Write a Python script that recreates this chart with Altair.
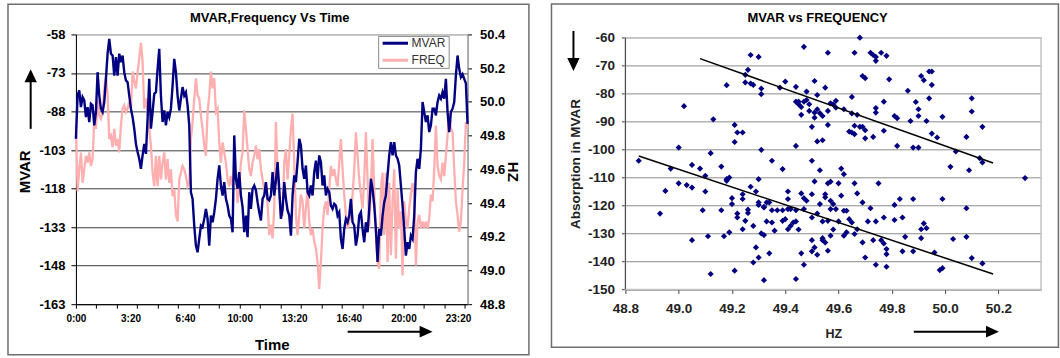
import altair as alt
import numpy as np
import pandas as pd

FONT = "Liberation Sans"
NAVY = "#000080"
PINK = "#FFAFAF"

# ---------------- left chart data (5-min samples over the day) ----------------
mvar_values = [
    -98.6, -81.8, -79.8, -86.3, -82.4, -83.7, -90.2, -86.3, -92.1, -85.0,
    -85.6, -93.4, -88.2, -72.7, -81.8, -86.9, -88.2, -84.3, -75.3, -65.5,
    -59.7, -65.5, -66.2, -74.0, -66.8, -74.0, -65.5, -68.8, -66.2, -72.7,
    -75.9, -76.6, -81.8, -86.9, -90.2, -94.7, -100.6, -103.8, -106.4, -110.3,
    -105.1, -100.6, -104.5, -90.8, -75.3, -94.7, -88.2, -81.1, -80.5, -71.4,
    -63.6, -81.8, -92.1, -87.6, -93.4, -88.2, -90.2, -86.9, -77.9, -67.5,
    -72.7, -81.8, -87.6, -83.0, -78.5, -81.8, -80.5, -85.6, -93.4, -119.4,
    -122.0, -132.4, -140.2, -142.8, -137.6, -132.4, -133.0, -129.8, -125.9, -129.8,
    -140.2, -128.5, -131.1, -127.2, -122.0, -114.2, -109.0, -116.8, -120.7, -115.5,
    -122.0, -124.6, -128.5, -129.8, -135.0, -97.3, -114.2, -118.1, -111.6, -120.7,
    -125.2, -135.0, -128.5, -136.9, -119.4, -125.9, -118.1, -116.8, -118.7, -123.3,
    -127.2, -130.4, -122.0, -120.7, -115.5, -122.0, -122.6, -120.7,
    -111.6, -120.7, -114.9, -107.7, -118.1, -129.8, -125.9, -115.5, -122.0, -126.5,
    -128.5, -136.3, -120.7, -112.9, -115.5, -107.7, -98.6, -101.2, -110.3, -114.2,
    -109.0, -119.4, -120.7, -116.8, -120.7, -111.6, -107.1, -114.2, -105.1, -107.7,
    -116.8, -112.9, -120.7, -118.1, -119.4, -124.6, -125.9, -123.9, -124.6, -128.5,
    -127.2, -137.6, -141.5, -133.7, -129.8, -131.1, -128.5, -122.0, -131.1, -132.4,
    -140.2, -136.3, -128.5, -127.2, -133.7, -138.9, -131.1, -135.0, -125.9, -114.2,
    -118.1, -124.6, -133.7, -146.6, -133.7, -136.3, -128.5, -123.3, -120.7, -112.9,
    -105.1, -99.9, -105.1, -99.9, -105.1, -106.4, -109.0, -116.8, -124.6, -133.7,
    -144.1, -138.9, -141.5, -136.3, -137.6, -128.5, -111.6, -106.4, -110.3, -102.5,
    -84.3, -88.2, -92.1, -89.5, -96.0, -93.4, -86.9, -86.9, -89.5, -84.3,
    -81.8, -83.0, -80.5, -83.0, -75.3, -88.2, -96.0, -88.2, -86.9, -84.3,
    -74.0, -66.2, -71.4, -74.6, -73.5, -75.3, -77.0, -92.8,
]
freq_values = [
    49.86, 49.47, 49.60, 49.70, 49.52, 49.60, 49.68, 49.64, 49.70, 49.62,
    49.66, 49.90, 49.84, 50.01, 49.92, 49.90, 49.94, 50.08, 50.15, 50.04,
    49.78, 49.80, 49.73, 49.84, 49.74, 49.78, 49.70, 49.86, 49.96, 49.98,
    49.94, 49.96, 50.00, 49.96, 50.18, 50.12, 50.08, 50.18, 50.26, 50.35,
    50.24, 49.96, 50.02, 49.94, 49.84, 49.74, 49.58, 49.50, 49.68, 49.50,
    49.68, 49.54, 49.64, 49.70, 49.54, 49.66, 49.52, 49.60, 49.44, 49.48,
    49.33, 49.29, 49.54, 49.58, 49.62, 49.60, 49.56, 49.50, 49.52, 49.78,
    49.88, 50.02, 50.14, 50.04, 50.02, 49.92, 49.84, 49.74, 49.68, 49.94,
    50.04, 50.18, 50.08, 50.14, 49.94, 49.96, 49.76, 49.64, 49.76, 49.70,
    49.64, 49.54, 49.50, 49.56, 49.50, 49.62, 49.58, 49.40, 49.50, 49.64,
    49.70, 49.95, 49.84, 49.72, 49.60, 49.56, 49.64, 49.68, 49.74, 49.66,
    49.72, 49.60, 49.54, 49.48, 49.52, 49.39, 49.21, 49.27,
    49.19, 49.37, 49.88, 49.58, 49.45, 49.33, 49.33, 49.64, 49.72, 49.54,
    49.68, 49.84, 49.93, 49.64, 49.33, 49.21, 49.33, 49.45, 49.41, 49.25,
    49.37, 49.48, 49.29, 49.21, 49.25, 49.17, 49.13, 49.05, 48.89, 49.05,
    49.25, 49.37, 49.41, 49.33, 49.48, 49.62, 49.56, 49.60, 49.54, 49.50,
    49.64, 49.78, 49.60, 49.45, 49.33, 49.25, 49.29, 49.33, 49.45, 49.60,
    49.82, 49.68, 49.54, 49.45, 49.37, 49.54, 49.82, 49.54, 49.25, 49.48,
    49.78, 49.48, 49.21, 49.05, 49.01, 49.48, 49.58, 49.21, 49.58, 49.05,
    49.52, 49.09, 49.41, 49.60, 49.07, 49.48, 49.25, 49.35, 48.97, 49.41,
    49.29, 49.25, 49.37, 49.45, 49.52, 49.45, 49.03, 49.29, 49.33, 49.25,
    49.29, 49.25, 49.29, 49.25, 49.31, 49.45, 49.41, 49.60, 49.86, 49.62,
    49.56, 49.54, 49.64, 49.56, 49.68, 49.80, 49.94, 49.84, 49.82, 49.60,
    49.41, 49.33, 49.23, 49.29, 49.48, 49.64, 49.88, 49.84,
]
day_end_min = 1435  # last 5-minute sample of the day (23:55)
time_tick_min = list(range(0, 1426, 75))
time_label_min = [0, 200, 400, 600, 800, 1000, 1200, 1400]
mvar_axis_values = [-163, -148, -133, -118, -103, -88, -73, -58]
freq_axis_values = [48.8, 49.0, 49.2, 49.4, 49.6, 49.8, 50.0, 50.2, 50.4]

# ---------------- right chart data ----------------
hz_values = [
    48.85, 48.93, 48.95, 48.97, 49.00, 49.02, 49.00, 49.03, 49.05, 49.05,
    49.05, 49.08, 49.09, 49.10, 49.10, 49.11, 49.12, 49.12, 49.13, 49.16,
    49.16, 49.17, 49.18, 49.18, 49.18, 49.19, 49.19, 49.20, 49.21, 49.20,
    49.21, 49.21, 49.22, 49.22, 49.22, 49.24, 49.24, 49.24, 49.24, 49.25,
    49.25, 49.25, 49.26, 49.26, 49.26, 49.27, 49.27, 49.27, 49.28, 49.28,
    49.28, 49.29, 49.29, 49.30, 49.30, 49.30, 49.30, 49.30, 49.31, 49.31,
    49.31, 49.31, 49.32, 49.32, 49.32, 49.32, 49.33, 49.33, 49.34, 49.34,
    49.35, 49.35, 49.35, 49.36, 49.37, 49.38, 49.39, 49.39, 49.39, 49.40,
    49.40, 49.41, 49.41, 49.41, 49.41, 49.42, 49.42, 49.43, 49.44, 49.44,
    49.44, 49.44, 49.44, 49.44, 49.45, 49.45, 49.45, 49.46, 49.46, 49.46,
    49.46, 49.47, 49.47, 49.47, 49.47, 49.47, 49.48, 49.48, 49.48, 49.49,
    49.49, 49.50, 49.50, 49.50, 49.50, 49.50, 49.50, 49.51, 49.51, 49.51,
    49.51, 49.51, 49.52, 49.52, 49.52, 49.52, 49.52, 49.53, 49.53, 49.53,
    49.54, 49.54, 49.54, 49.54, 49.54, 49.55, 49.55, 49.55, 49.55, 49.56,
    49.56, 49.56, 49.56, 49.56, 49.56, 49.57, 49.57, 49.57, 49.57, 49.57,
    49.58, 49.58, 49.58, 49.59, 49.59, 49.59, 49.60, 49.60, 49.61, 49.61,
    49.62, 49.62, 49.62, 49.62, 49.63, 49.63, 49.64, 49.64, 49.65, 49.65,
    49.65, 49.65, 49.66, 49.66, 49.66, 49.66, 49.66, 49.67, 49.67, 49.67,
    49.68, 49.68, 49.69, 49.69, 49.69, 49.69, 49.70, 49.70, 49.70, 49.70,
    49.71, 49.72, 49.72, 49.73, 49.73, 49.73, 49.74, 49.74, 49.74, 49.74,
    49.74, 49.74, 49.75, 49.76, 49.76, 49.77, 49.77, 49.77, 49.77, 49.78,
    49.78, 49.78, 49.78, 49.79, 49.81, 49.81, 49.81, 49.82, 49.82, 49.83,
    49.84, 49.84, 49.85, 49.86, 49.87, 49.88, 49.88, 49.88, 49.89, 49.90,
    49.90, 49.90, 49.91, 49.91, 49.91, 49.92, 49.92, 49.93, 49.93, 49.94,
    49.94, 49.95, 49.95, 49.95, 49.96, 49.97, 49.98, 49.99, 49.99, 49.99,
    50.02, 50.03, 50.04, 50.08, 50.08, 50.08, 50.09, 50.10, 50.10, 50.10,
    50.13, 50.14, 50.14, 50.14, 50.30,
]
absorption_values = [
    -104.0, -122.9, -114.8, -106.8, -99.3, -84.5, -112.1, -112.7, -132.4, -113.6,
    -105.5, -106.8, -121.7, -115.0, -109.4, -131.0, -144.5, -101.3, -89.2, -121.7,
    -106.1, -131.0, -111.2, -77.0, -110.6, -110.0, -129.6, -119.5, -97.3, -117.4,
    -91.2, -143.3, -124.3, -122.9, -93.9, -128.5, -117.7, -116.0, -93.9, -73.3,
    -125.5, -76.0, -122.7, -121.5, -71.5, -66.2, -76.4, -113.3, -127.3, -140.4,
    -76.9, -115.0, -135.0, -118.9, -66.9, -138.6, -110.6, -119.8, -130.0, -78.2,
    -100.1, -80.2, -120.7, -130.6, -146.7, -120.5, -125.7, -118.9, -137.1, -118.9,
    -104.0, -121.7, -126.1, -129.0, -121.7, -77.9, -121.7, -107.0, -125.5, -124.9,
    -75.7, -121.3, -128.5, -115.0, -117.7, -121.3, -127.3, -126.1, -77.6, -125.7,
    -82.9, -98.7, -121.7, -146.3, -82.9, -128.6, -83.8, -84.8, -137.1, -87.6,
    -115.7, -63.3, -141.2, -82.9, -121.3, -117.4, -82.3, -118.3, -79.3, -86.2,
    -83.8, -136.4, -116.0, -124.3, -132.4, -91.9, -104.0, -86.8, -88.6, -75.5,
    -111.4, -135.0, -80.5, -97.1, -137.6, -122.9, -85.6, -119.5, -87.0, -107.4,
    -125.7, -88.0, -131.7, -132.4, -96.7, -133.2, -116.0, -77.9, -117.1, -65.4,
    -112.1, -136.2, -86.2, -125.5, -91.2, -111.5, -130.8, -118.3, -121.3, -83.5,
    -128.6, -83.8, -119.5, -85.0, -121.3, -82.6, -125.7, -112.1, -116.5, -106.8,
    -108.8, -121.9, -130.8, -85.6, -129.6, -121.9, -124.9, -93.6, -81.2, -87.1,
    -126.1, -93.9, -112.1, -91.5, -130.2, -65.4, -94.5, -115.7, -87.6, -128.5,
    -91.9, -60.0, -91.9, -133.2, -118.9, -73.7, -74.5, -93.1, -138.6, -96.0,
    -125.7, -65.4, -121.0, -66.2, -132.4, -95.5, -141.2, -66.9, -86.8, -125.7,
    -68.3, -85.2, -112.1, -132.4, -65.4, -124.3, -82.9, -93.3, -133.6, -135.6,
    -137.4, -66.5, -141.9, -74.9, -119.8, -125.2, -88.0, -88.8, -98.7, -117.7,
    -124.3, -136.4, -131.2, -79.0, -89.8, -99.3, -136.4, -117.7, -83.0, -99.3,
    -88.0, -85.6, -73.7, -131.7, -128.5, -75.2, -126.4, -89.8, -128.1, -81.7,
    -72.1, -76.9, -72.1, -94.3, -136.8, -95.7, -143.1, -142.4, -88.3, -117.7,
    -106.2, -132.0, -100.7, -95.5, -121.0, -131.2, -107.4, -81.7, -86.4, -138.8,
    -103.1, -91.9, -140.7, -104.6, -110.2,
]
trend_group = ["upper", "upper", "lower", "lower"]
trend_hz = [49.08, 50.18, 48.85, 50.18]
trend_mvar = [-67.5, -104.8, -102.3, -144.5]
hz_axis_values = [48.8, 49.0, 49.2, 49.4, 49.6, 49.8, 50.0, 50.2]
abs_axis_values = [-150, -140, -130, -120, -110, -100, -90, -80, -70, -60]

# ---------------- helpers for decorations ----------------
def one():
    return pd.DataFrame({"k": [0]})

def text_at(txt, x, y, size, weight="bold", color="black", align="center"):
    return alt.Chart(one()).mark_text(
        text=txt, font=FONT, fontSize=size, fontWeight=weight, color=color,
        align=align, baseline="middle"
    ).encode(x=alt.value(x), y=alt.value(y))

def rule_at(x, x2, y, y2, color="black", width=2.0):
    return alt.Chart(one()).mark_rule(color=color, strokeWidth=width).encode(
        x=alt.value(x), x2=alt.value(x2), y=alt.value(y), y2=alt.value(y2)
    )

def head_at(x, y, path, size=169):
    return alt.Chart(one()).mark_point(
        shape=path, size=size, filled=True, color="black", opacity=1, strokeWidth=0
    ).encode(x=alt.value(x), y=alt.value(y))

def box_at(x, x2, y, y2, stroke, width, fill_opacity=0.0):
    return alt.Chart(one()).mark_rect(
        fill="white", fillOpacity=fill_opacity, stroke=stroke, strokeWidth=width
    ).encode(x=alt.value(x), x2=alt.value(x2), y=alt.value(y), y2=alt.value(y2))

UP = "M0,-1L0.95,1L-0.95,1Z"
DOWN = "M0,1L0.95,-1L-0.95,-1Z"
RIGHT = "M1,0L-1,0.9L-1,-0.9Z"
HYPHEN_LABEL = "toString(datum.value)"

# ---------------- left chart ----------------
LW, LH = 392, 270
mv_df = pd.DataFrame({"t": np.linspace(0, day_end_min, len(mvar_values)), "MVAR": mvar_values})
fr_df = pd.DataFrame({"t": np.linspace(0, day_end_min, len(freq_values)), "FREQ": freq_values})

xscale_left = alt.Scale(domain=[0, day_end_min], nice=False, zero=False)

freq_line = alt.Chart(fr_df).mark_line(color=PINK, strokeWidth=2.3).encode(
    x=alt.X("t:Q", scale=xscale_left, axis=alt.Axis(
        orient="bottom", values=time_label_min, ticks=False, tickSize=0, domain=False,
        grid=False, labelFlush=False, labelOverlap=False, labelPadding=9.5,
        labelFont=FONT, labelFontSize=10, labelFontWeight="bold", labelColor="black",
        labelExpr="floor(datum.value/60) + ':' + pad(toString(datum.value % 60), 2, '0', 'left')",
        title="Time", titleFont=FONT, titleFontSize=15, titleFontWeight="bold",
        titleColor="black", titleX=196, titleY=40, titleBaseline="middle")),
    y=alt.Y("FREQ:Q", scale=alt.Scale(domain=[48.8, 50.4], nice=False, zero=False), axis=alt.Axis(
        orient="right", values=freq_axis_values, format=".1f", grid=False, labelOverlap=False,
        domainColor="#8c8c8c", tickColor="black", tickSize=4, labelPadding=8,
        labelFont=FONT, labelFontSize=13, labelFontWeight="bold", labelColor="black",
        title="HZ", titleFont=FONT, titleFontSize=15, titleFontWeight="bold", titleAngle=90,
        titleColor="black", titleX=45, titleY=137, titleBaseline="middle")),
)

mvar_line = alt.Chart(mv_df).mark_line(color=NAVY, strokeWidth=2.4).encode(
    x=alt.X("t:Q", scale=xscale_left, axis=alt.Axis(
        orient="bottom", values=time_tick_min, labels=False, ticks=True, tickSize=4,
        tickColor="black", domain=True, domainColor="black", grid=False, title=None)),
    y=alt.Y("MVAR:Q", scale=alt.Scale(domain=[-163, -58], nice=False, zero=False), axis=alt.Axis(
        orient="left", values=mvar_axis_values, grid=True, labelOverlap=False,
        labelExpr=HYPHEN_LABEL,
        gridColor={"condition": {"test": "datum.value === -58", "value": "#b4b4b4"}, "value": "#3c3c3c"},
        gridWidth=1, domainColor="black", tickColor="black", tickSize=5, labelPadding=6,
        labelFont=FONT, labelFontSize=13, labelFontWeight="bold", labelColor="black",
        title="MVAR", titleFont=FONT, titleFontSize=15, titleFontWeight="bold",
        titleColor="black", titleX=-51, titleY=137, titleBaseline="middle")),
)

left = alt.layer(
    box_at(-68, 453.4, -30.2, 320.5, "#6e6e6e", 1.5),
    text_at("MVAR,Frequency Vs Time", 194, -16, 13),
    freq_line,
    mvar_line,
    box_at(303, 373.6, 2, 34, "#8a8a8a", 1, fill_opacity=1.0),
    rule_at(307, 332.4, 8.8, 8.8, NAVY, 3),
    rule_at(307, 332.4, 25.8, 25.8, PINK, 3),
    text_at("MVAR", 336, 9, 12, weight="normal", color="#333333", align="left"),
    text_at("FREQ", 336, 26, 12, weight="normal", color="#333333", align="left"),
    rule_at(-45.3, -45.3, 94.5, 46, "black", 2),
    head_at(-45.3, 41.3, UP),
    rule_at(272, 346, 297.5, 297.5, "black", 2),
    head_at(350.5, 297.5, RIGHT),
).resolve_scale(y="independent").resolve_axis(x="independent").properties(
    width=LW, height=LH, view=alt.ViewBackground(stroke="#a8a8a8", strokeWidth=1)
)

# ---------------- right chart ----------------
# plot area of the right chart starts 3.2 px lower than the left one: extend the
# view upward by that amount so both panels share the same origin row.
TOP_PAD = 3.2
RW, RH = 416, 252 + TOP_PAD
sc_df = pd.DataFrame({"HZ": hz_values, "MVAR": absorption_values})
tr_df = pd.DataFrame({"HZ": trend_hz, "MVAR": trend_mvar, "grp": trend_group})
xs = alt.Scale(domain=[48.8, 50.36], nice=False, zero=False)
ys = alt.Scale(domain=[-150, -60 + TOP_PAD * 90 / 252], nice=False, zero=False)

x_axis_r = alt.Axis(
    values=hz_axis_values, format=".1f", grid=False, domainColor="#404040",
    tickColor="#404040", tickSize=4, labelPadding=8, labelFlush=False, labelOverlap=False,
    labelFont=FONT, labelFontSize=13.5, labelFontWeight="bold", labelColor="#222222",
    title="HZ", titleFont=FONT, titleFontSize=12.5, titleFontWeight="bold",
    titleColor="#222222", titleX=208, titleY=44, titleBaseline="middle")
y_axis_r = alt.Axis(
    values=abs_axis_values, grid=True, gridColor="#8c8c8c", gridWidth=1,
    labelOverlap=False, labelExpr=HYPHEN_LABEL, domain=False,
    tickColor="#404040", tickSize=4, labelPadding=7,
    labelFont=FONT, labelFontSize=13.5, labelFontWeight="bold", labelColor="#222222",
    title="Absorption in MVAR", titleFont=FONT, titleFontSize=13.5, titleFontWeight="bold",
    titleColor="#222222", titleX=-50, titleY=126 + TOP_PAD, titleBaseline="middle")

points = alt.Chart(sc_df).mark_point(
    shape="diamond", filled=True, size=38, color=NAVY, opacity=1, strokeWidth=0
).encode(
    x=alt.X("HZ:Q", scale=xs, axis=x_axis_r),
    y=alt.Y("MVAR:Q", scale=ys, axis=y_axis_r),
)

trends = alt.Chart(tr_df).mark_line(color="black", strokeWidth=1.5).encode(
    x=alt.X("HZ:Q", scale=xs, axis=x_axis_r),
    y=alt.Y("MVAR:Q", scale=ys, axis=y_axis_r),
    detail="grp:N",
)

right = alt.layer(
    box_at(-74, 433.4, -33.7 + TOP_PAD, 310 + TOP_PAD, "#6e6e6e", 1.5),
    text_at("MVAR vs FREQUENCY", 192.4, -19.4 + TOP_PAD, 13),
    box_at(0, RW, TOP_PAD, RH, "#c4c4c4", 1.5),
    rule_at(0, 0, TOP_PAD, RH, "#404040", 1),
    points,
    trends,
    rule_at(-52, -52, -6.7 + TOP_PAD, 22 + TOP_PAD, "black", 2),
    head_at(-52, 26.8 + TOP_PAD, DOWN),
    rule_at(288.7, 362, 294.3 + TOP_PAD, 294.3 + TOP_PAD, "black", 2),
    head_at(367.4, 294.3 + TOP_PAD, RIGHT),
).properties(width=RW, height=RH, view=alt.ViewBackground(stroke="transparent", strokeWidth=0))

chart = alt.hconcat(left, right, spacing=20).properties(
    padding={"left": 6, "top": 2.3, "right": 0, "bottom": 0}, background="white"
).configure(font=FONT)

chart.save("out.html", embed_options={"renderer": "svg", "actions": False})
